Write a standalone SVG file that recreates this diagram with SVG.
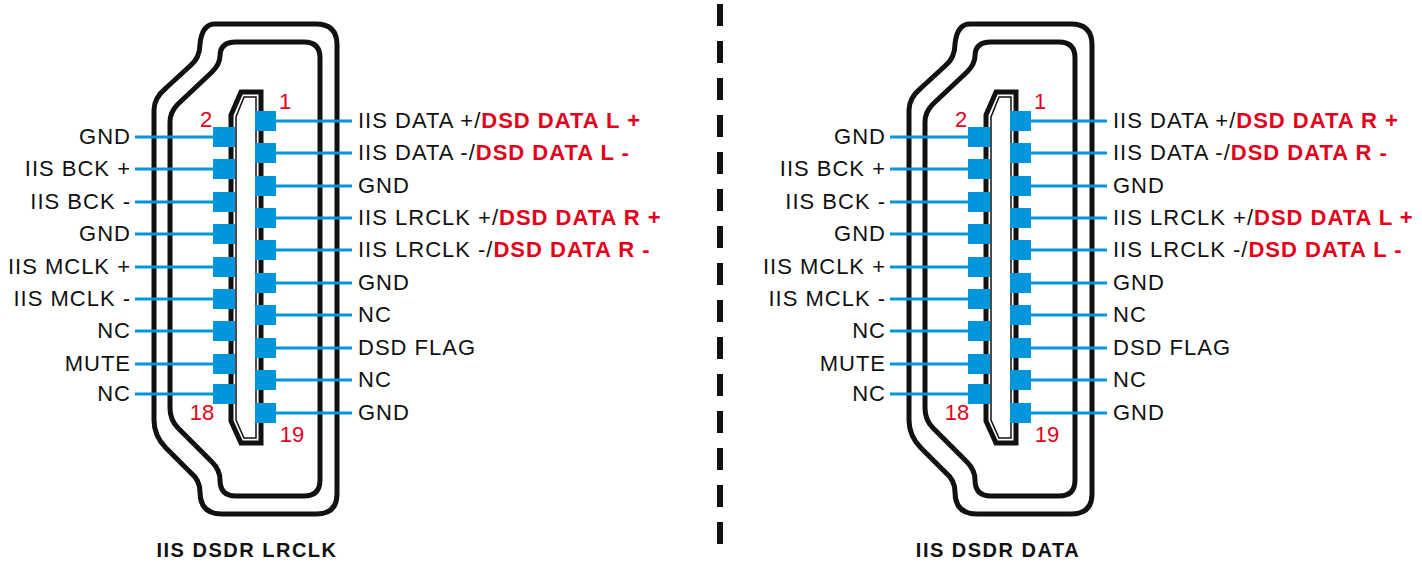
<svg xmlns="http://www.w3.org/2000/svg" width="1422" height="578" viewBox="0 0 1422 578">
<style>
.o{fill:none;stroke:#111;stroke-width:5;stroke-linejoin:round}
.t{fill:#fff;stroke:#111;stroke-width:5;stroke-linejoin:miter}
.ti{fill:none;stroke:#111;stroke-width:1.5}
.p{fill:#0096db}
.w{stroke:#0096db;stroke-width:3}
text{font-family:"Liberation Sans",Arial,sans-serif;font-size:22px;letter-spacing:1px;fill:#111}
.n{fill:#e3001b;font-size:22px;letter-spacing:0}
.r{fill:#e3001b;font-weight:bold}
.l{text-anchor:end}
.h{font-weight:bold;font-size:20px;letter-spacing:1.5px;text-anchor:middle}
</style>
<defs>
<g id="conn">
<path class="o" d="M215,24 H316 Q337,24 337,45 V494 Q337,514 316,514 H222 Q200,514 200,492 Q200,480 190,472 L166,448 Q154,436 154,420 V110 Q154,98 166,88 L190,66 Q200,58 200,44 Q202,24 215,24 Z"/>
<path class="o" d="M236,42 H304 Q320,42 320,58 V480 Q320,496 304,496 H236 Q220,496 220,480 Q220,470 212,462 L178,428 Q170,420 170,408 V122 Q170,112 178,104 L212,72 Q220,64 220,56 Q220,42 236,42 Z"/>
<path class="t" d="M241,92 H261 V443 H241 L231,421 V115 Z"/>
<path class="ti" d="M244,97 H256 V438 H244 L236,420 V117 Z"/>
</g>
</defs>
<g id="separator"><line x1="720" y1="4" x2="720" y2="556" stroke="#111" stroke-width="6" stroke-dasharray="22,15"/></g>

<g id="left-connector">
<use href="#conn"/>
<text class="n" x="285" y="109" text-anchor="middle">1</text>
<text class="n" x="206" y="127" text-anchor="middle">2</text>
<text class="n" x="202" y="420" text-anchor="middle">18</text>
<text class="n" x="292" y="442" text-anchor="middle">19</text>
<text class="h" x="247" y="557">IIS DSDR LRCLK</text>
</g>
<g id="connectors-left">
<g class="w">
<line x1="135" y1="137" x2="214" y2="137"/><line x1="135" y1="169" x2="214" y2="169"/><line x1="135" y1="202" x2="214" y2="202"/><line x1="135" y1="234" x2="214" y2="234"/><line x1="135" y1="267" x2="214" y2="267"/><line x1="135" y1="299" x2="214" y2="299"/><line x1="135" y1="331" x2="214" y2="331"/><line x1="135" y1="364" x2="214" y2="364"/><line x1="135" y1="394" x2="214" y2="394"/>
<line x1="275" y1="121" x2="352" y2="121"/><line x1="275" y1="153" x2="352" y2="153"/><line x1="275" y1="186" x2="352" y2="186"/><line x1="275" y1="218" x2="352" y2="218"/><line x1="275" y1="250" x2="352" y2="250"/><line x1="275" y1="283" x2="352" y2="283"/><line x1="275" y1="315" x2="352" y2="315"/><line x1="275" y1="348" x2="352" y2="348"/><line x1="275" y1="380" x2="352" y2="380"/><line x1="275" y1="413" x2="352" y2="413"/>
</g>
<g class="p">
<rect x="213" y="127" width="22" height="20"/><rect x="213" y="159" width="22" height="20"/><rect x="213" y="192" width="22" height="20"/><rect x="213" y="224" width="22" height="20"/><rect x="213" y="257" width="22" height="20"/><rect x="213" y="289" width="22" height="20"/><rect x="213" y="321" width="22" height="20"/><rect x="213" y="354" width="22" height="20"/><rect x="213" y="384" width="22" height="20"/>
<rect x="255" y="111" width="21" height="20"/><rect x="255" y="143" width="21" height="20"/><rect x="255" y="176" width="21" height="20"/><rect x="255" y="208" width="21" height="20"/><rect x="255" y="240" width="21" height="20"/><rect x="255" y="273" width="21" height="20"/><rect x="255" y="305" width="21" height="20"/><rect x="255" y="338" width="21" height="20"/><rect x="255" y="370" width="21" height="20"/><rect x="255" y="403" width="21" height="20"/>
</g>
</g>
<g id="labels-left">
<text class="l" x="131" y="144">GND</text><text class="l" x="131" y="176">IIS BCK +</text><text class="l" x="131" y="209">IIS BCK -</text><text class="l" x="131" y="241">GND</text><text class="l" x="131" y="274">IIS MCLK +</text><text class="l" x="131" y="306">IIS MCLK -</text><text class="l" x="131" y="338">NC</text><text class="l" x="131" y="371">MUTE</text><text class="l" x="131" y="401">NC</text>
<text x="358" y="128">IIS DATA +/<tspan class="r">DSD DATA L +</tspan></text>
<text x="358" y="160">IIS DATA -/<tspan class="r">DSD DATA L -</tspan></text>
<text x="358" y="193">GND</text>
<text x="358" y="225">IIS LRCLK +/<tspan class="r">DSD DATA R +</tspan></text>
<text x="358" y="257">IIS LRCLK -/<tspan class="r">DSD DATA R -</tspan></text>
<text x="358" y="290">GND</text><text x="358" y="322">NC</text><text x="358" y="355">DSD FLAG</text><text x="358" y="387">NC</text><text x="358" y="420">GND</text>
</g>

<g id="right-connector" transform="translate(755,0)">
<use href="#conn"/>
<text class="n" x="285" y="109" text-anchor="middle">1</text>
<text class="n" x="206" y="127" text-anchor="middle">2</text>
<text class="n" x="202" y="420" text-anchor="middle">18</text>
<text class="n" x="292" y="442" text-anchor="middle">19</text>
<text class="h" x="243" y="557">IIS DSDR DATA</text>
</g>
<g id="connectors-right" transform="translate(755,0)">
<g class="w">
<line x1="135" y1="137" x2="214" y2="137"/><line x1="135" y1="169" x2="214" y2="169"/><line x1="135" y1="202" x2="214" y2="202"/><line x1="135" y1="234" x2="214" y2="234"/><line x1="135" y1="267" x2="214" y2="267"/><line x1="135" y1="299" x2="214" y2="299"/><line x1="135" y1="331" x2="214" y2="331"/><line x1="135" y1="364" x2="214" y2="364"/><line x1="135" y1="394" x2="214" y2="394"/>
<line x1="275" y1="121" x2="352" y2="121"/><line x1="275" y1="153" x2="352" y2="153"/><line x1="275" y1="186" x2="352" y2="186"/><line x1="275" y1="218" x2="352" y2="218"/><line x1="275" y1="250" x2="352" y2="250"/><line x1="275" y1="283" x2="352" y2="283"/><line x1="275" y1="315" x2="352" y2="315"/><line x1="275" y1="348" x2="352" y2="348"/><line x1="275" y1="380" x2="352" y2="380"/><line x1="275" y1="413" x2="352" y2="413"/>
</g>
<g class="p">
<rect x="213" y="127" width="22" height="20"/><rect x="213" y="159" width="22" height="20"/><rect x="213" y="192" width="22" height="20"/><rect x="213" y="224" width="22" height="20"/><rect x="213" y="257" width="22" height="20"/><rect x="213" y="289" width="22" height="20"/><rect x="213" y="321" width="22" height="20"/><rect x="213" y="354" width="22" height="20"/><rect x="213" y="384" width="22" height="20"/>
<rect x="255" y="111" width="21" height="20"/><rect x="255" y="143" width="21" height="20"/><rect x="255" y="176" width="21" height="20"/><rect x="255" y="208" width="21" height="20"/><rect x="255" y="240" width="21" height="20"/><rect x="255" y="273" width="21" height="20"/><rect x="255" y="305" width="21" height="20"/><rect x="255" y="338" width="21" height="20"/><rect x="255" y="370" width="21" height="20"/><rect x="255" y="403" width="21" height="20"/>
</g>
</g>
<g id="labels-right" transform="translate(755,0)">
<text class="l" x="131" y="144">GND</text><text class="l" x="131" y="176">IIS BCK +</text><text class="l" x="131" y="209">IIS BCK -</text><text class="l" x="131" y="241">GND</text><text class="l" x="131" y="274">IIS MCLK +</text><text class="l" x="131" y="306">IIS MCLK -</text><text class="l" x="131" y="338">NC</text><text class="l" x="131" y="371">MUTE</text><text class="l" x="131" y="401">NC</text>
<text x="358" y="128">IIS DATA +/<tspan class="r">DSD DATA R +</tspan></text>
<text x="358" y="160">IIS DATA -/<tspan class="r">DSD DATA R -</tspan></text>
<text x="358" y="193">GND</text>
<text x="358" y="225">IIS LRCLK +/<tspan class="r">DSD DATA L +</tspan></text>
<text x="358" y="257">IIS LRCLK -/<tspan class="r">DSD DATA L -</tspan></text>
<text x="358" y="290">GND</text><text x="358" y="322">NC</text><text x="358" y="355">DSD FLAG</text><text x="358" y="387">NC</text><text x="358" y="420">GND</text>
</g>
</svg>
